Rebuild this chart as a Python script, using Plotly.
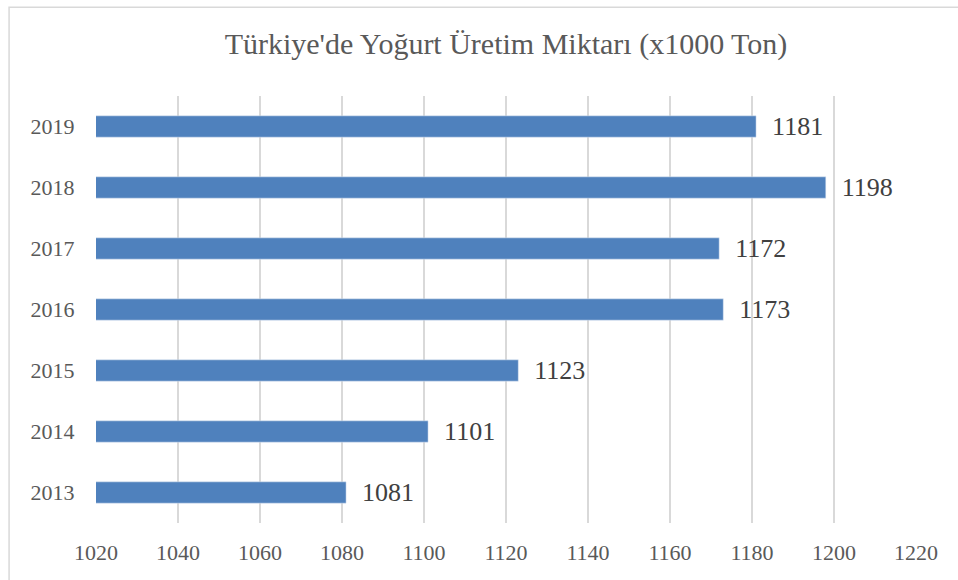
import plotly.graph_objects as go

years = ["2013", "2014", "2015", "2016", "2017", "2018", "2019"]
values = [1081, 1101, 1123, 1173, 1172, 1198, 1181]
tick_vals = [1020, 1040, 1060, 1080, 1100, 1120, 1140, 1160, 1180, 1200, 1220]

SERIF = "Liberation Serif, Times New Roman, serif"

fig = go.Figure(go.Bar(
    y=years, x=values, orientation="h",
    marker=dict(color="#4F81BD"),
    width=0.35,
    text=["\u00a0\u00a0" + str(v) for v in values], textposition="outside",
    constraintext="none",
    textfont=dict(family=SERIF, size=26, color="#404040"),
    cliponaxis=False,
    hoverinfo="skip",
))

fig.update_layout(
    width=958, height=580,
    paper_bgcolor="white", plot_bgcolor="white",
    margin=dict(l=96, r=42, t=96, b=57),
    title=dict(text="Türkiye'de Yoğurt Üretim Miktarı (x1000 Ton)",
               x=0.5, xanchor="center", xref="paper", y=0.925, yanchor="middle",
               yref="container",
               font=dict(family=SERIF, size=30, color="#595959")),
    font=dict(family=SERIF, color="#595959"),
    showlegend=False,
    bargap=0.65,
    shapes=[dict(type="rect", xref="paper", yref="paper",
                 x0=-0.106, x1=1.2, y0=-0.3, y1=1.208,
                 line=dict(color="#D9D9D9", width=1.5), layer="below")],
)
fig.update_xaxes(range=[1020, 1220], tickvals=tick_vals, automargin=False,
                 showgrid=True, gridcolor="#D9D9D9", gridwidth=1.5,
                 zeroline=False, showline=False,
                 ticks="outside", ticklen=10, tickcolor="rgba(0,0,0,0)",
                 tickfont=dict(family=SERIF, size=22, color="#595959"))
fig.update_yaxes(showgrid=False, zeroline=False, showline=False, automargin=False,
                 ticks="outside", ticklen=16, tickcolor="rgba(0,0,0,0)",
                 tickfont=dict(family=SERIF, size=22, color="#595959"))

fig.write_html("out.html", config={"displayModeBar": False},
               post_script="document.body.style.margin='0px';")
